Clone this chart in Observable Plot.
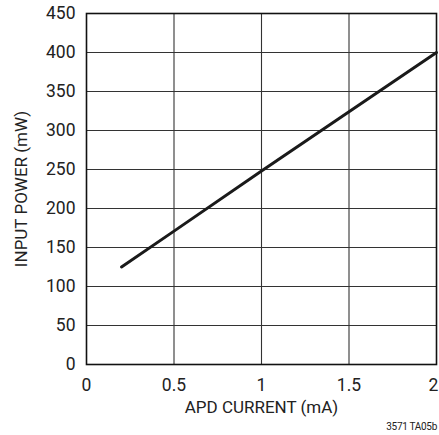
<!DOCTYPE html>
<html>
<head>
<meta charset="utf-8">
<script src="https://cdn.jsdelivr.net/npm/d3@7"></script>
<script src="https://cdn.jsdelivr.net/npm/@observablehq/plot@0.6"></script>
<style>
  html, body { margin: 0; padding: 0; background: #fff; }
  #wrap { position: relative; width: 439px; height: 435px; overflow: hidden; }
  #note { position: absolute; right: 2px; top: 421px; font: 10px Roboto, "DejaVu Sans Condensed", sans-serif; letter-spacing: -0.3px; color: #222; }
</style>
</head>
<body>
<div id="wrap"><div id="note">3571 TA05b</div></div>
<script>
const current = [0.2, 0.5, 1.0, 1.5, 2.0];
const power = [125, 171, 248, 324, 400];
const xTicks = [0, 0.5, 1, 1.5, 2];
const xTickLabels = ["0", "0.5", "1", "1.5", "2"];
const yTicks = [0, 50, 100, 150, 200, 250, 300, 350, 400, 450];

const data = current.map((c, i) => ({c, p: power[i]}));

const chart = Plot.plot({
  width: 439,
  height: 435,
  marginLeft: 86,
  marginRight: 3,
  marginTop: 13,
  marginBottom: 71,
  style: {fontFamily: "Roboto, 'DejaVu Sans Condensed', sans-serif", fontSize: "17px", color: "#222"},
  x: {domain: [0, 2], label: null},
  y: {domain: [0, 450], label: null},
  marks: [
    Plot.ruleX(xTicks.slice(1, -1), {stroke: "#333", strokeWidth: 1.1}),
    Plot.ruleY(yTicks.slice(1, -1), {stroke: "#333", strokeWidth: 1.1}),
    Plot.frame({stroke: "#111", strokeWidth: 1.6}),
    Plot.line(data, {x: "c", y: "p", stroke: "#1a1a1a", strokeWidth: 3}),
    Plot.axisX(xTicks.slice(0, -1), {tickFormat: (d) => xTickLabels[xTicks.indexOf(d)], tickSize: 0, tickPadding: 14, fontSize: 17.5, label: null}),
    Plot.axisX([2], {tickFormat: () => "2", tickSize: 0, tickPadding: 14, fontSize: 17.5, dx: -3, label: null}),
    Plot.axisY({ticks: yTicks, tickSize: 0, tickPadding: 11, fontSize: 17.5, label: null}),
    Plot.text(["APD CURRENT (mA)"], {frameAnchor: "bottom", dy: 48, fontSize: 17}),
    Plot.text(["INPUT POWER (mW)"], {frameAnchor: "left", textAnchor: "middle", dx: -65, rotate: -90, fontSize: 17})
  ]
});
document.getElementById("wrap").prepend(chart);
</script>
</body>
</html>
